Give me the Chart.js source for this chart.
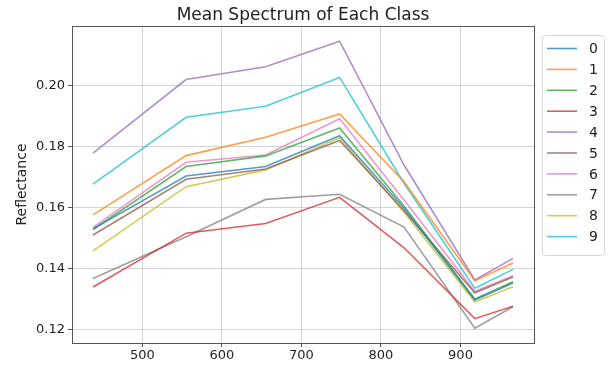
<!DOCTYPE html>
<html lang="en">
<head>
    <meta charset="UTF-8">
    <title>Mean Spectrum of Each Class</title>
    <style>
        body { margin: 0; background: #fff; }
    </style>
</head>
<body>
    <canvas id="myChart" width="608" height="365"></canvas>

    <script src="https://cdn.jsdelivr.net/npm/chart.js"></script>
    <script>
        // wavelengths (nm) and mean reflectance per class
        const wavelengths = [438, 555, 655, 748, 829, 918, 966];
        const classNames = ['0', '1', '2', '3', '4', '5', '6', '7', '8', '9'];

        const class0 = [0.1530, 0.1704, 0.1735, 0.1836, 0.1598, 0.1296, 0.1352];
        const class1 = [0.1576, 0.1771, 0.1831, 0.1908, 0.1685, 0.1360, 0.1418];
        const class2 = [0.1528, 0.1735, 0.1770, 0.1862, 0.1605, 0.1300, 0.1356];
        const class3 = [0.1339, 0.1516, 0.1548, 0.1634, 0.1468, 0.1235, 0.1276];
        const class4 = [0.1779, 0.2021, 0.2063, 0.2147, 0.1740, 0.1362, 0.1433];
        const class5 = [0.1510, 0.1693, 0.1727, 0.1821, 0.1590, 0.1320, 0.1372];
        const class6 = [0.1535, 0.1749, 0.1773, 0.1892, 0.1625, 0.1324, 0.1376];
        const class7 = [0.1367, 0.1504, 0.1627, 0.1644, 0.1536, 0.1204, 0.1274];
        const class8 = [0.1458, 0.1669, 0.1724, 0.1830, 0.1585, 0.1290, 0.1340];
        const class9 = [0.1677, 0.1897, 0.1933, 0.2028, 0.1680, 0.1335, 0.1397];

        const xTicks = [500, 600, 700, 800, 900];
        const yTicks = [0.12, 0.14, 0.16, 0.18, 0.20];

        const allClasses = [class0, class1, class2, class3, class4, class5, class6, class7, class8, class9];
        const colors = ['#1f77b4', '#ff7f0e', '#2ca02c', '#d62728', '#9467bd',
                        '#8c564b', '#e377c2', '#7f7f7f', '#bcbd22', '#17becf'];

        function fade(hex, a) {
            let r = parseInt(hex.substr(1, 2), 16);
            let g = parseInt(hex.substr(3, 2), 16);
            let b = parseInt(hex.substr(5, 2), 16);
            return 'rgba(' + r + ',' + g + ',' + b + ',' + a + ')';
        }

        let v_datasets = [];
        for (let i = 0; i < allClasses.length; i++) {
            let pts = [];
            for (let j = 0; j < wavelengths.length; j++) {
                pts.push({ x: wavelengths[j], y: allClasses[i][j] });
            }
            v_datasets.push({
                label: classNames[i],
                data: pts,
                borderColor: fade(colors[i], 0.75),
                borderWidth: 1.6,
                pointRadius: 0,
                tension: 0,
                fill: false
            });
        }

        const FONT = "'DejaVu Sans', sans-serif";

        // title, frame and legend drawn by hand
        const extras = {
            id: 'extras',
            afterDraw(chart) {
                const c = chart.ctx;
                const a = chart.chartArea;
                c.save();

                // frame
                c.strokeStyle = '#555';
                c.lineWidth = 1;
                c.strokeRect(Math.round(a.left) + 0.5, Math.round(a.top) + 0.5,
                    Math.round(a.right - a.left), Math.round(a.bottom - a.top));

                // title
                c.fillStyle = '#222';
                c.font = '17px ' + FONT;
                c.textAlign = 'center';
                c.textBaseline = 'middle';
                c.fillText('Mean Spectrum of Each Class', (a.left + a.right) / 2, 16);

                // legend
                const lx = 542, ly = 35, lw = 62, lh = 220;
                c.beginPath();
                c.roundRect(lx + 0.5, ly + 0.5, lw, lh, 3);
                c.fillStyle = 'rgba(255,255,255,0.9)';
                c.fill();
                c.strokeStyle = '#d6d6d6';
                c.stroke();

                c.font = '14px ' + FONT;
                c.textAlign = 'left';
                for (let i = 0; i < classNames.length; i++) {
                    let y = 48.5 + i * 20.9;
                    c.beginPath();
                    c.moveTo(547, y);
                    c.lineTo(577, y);
                    c.strokeStyle = fade(colors[i], 0.75);
                    c.lineWidth = 1.6;
                    c.stroke();
                    c.fillStyle = '#222';
                    c.fillText(classNames[i], 589, y + 1);
                }
                c.restore();
            }
        };

        const ctx = document.getElementById('myChart');

        let v_chart = new Chart(ctx, {
            type: 'line',
            data: { datasets: v_datasets },
            options: {
                responsive: false,
                animation: false,
                layout: { padding: { top: 26, right: 74, left: 0, bottom: 0 } },
                plugins: {
                    legend: { display: false },
                    title: { display: false },
                    tooltip: { enabled: false }
                },
                scales: {
                    x: {
                        type: 'linear',
                        min: 411.6,
                        max: 992.4,
                        afterBuildTicks: s => { s.ticks = xTicks.map(v => ({ value: v })); },
                        afterFit: s => { s.height = 22; },
                        border: { display: false },
                        grid: { color: 'rgba(176,176,176,0.55)', lineWidth: 1, tickLength: 4, tickColor: '#555' },
                        ticks: { color: '#222', font: { family: FONT, size: 13 }, padding: 1, maxRotation: 0 }
                    },
                    y: {
                        type: 'linear',
                        min: 0.1155,
                        max: 0.2197,
                        afterBuildTicks: s => { s.ticks = yTicks.map(v => ({ value: v })); },
                        afterFit: s => { s.width = 72; },
                        border: { display: false },
                        grid: { color: 'rgba(176,176,176,0.55)', lineWidth: 1, tickLength: 4, tickColor: '#555' },
                        ticks: {
                            color: '#222',
                            font: { family: FONT, size: 13 },
                            padding: 3,
                            callback: v => v.toFixed(2)
                        },
                        title: {
                            display: true,
                            text: 'Reflectance',
                            color: '#222',
                            font: { family: FONT, size: 14 },
                            padding: { top: 14, bottom: 0 }
                        }
                    }
                }
            },
            plugins: [extras]
        });
    </script>
</body>
</html>
